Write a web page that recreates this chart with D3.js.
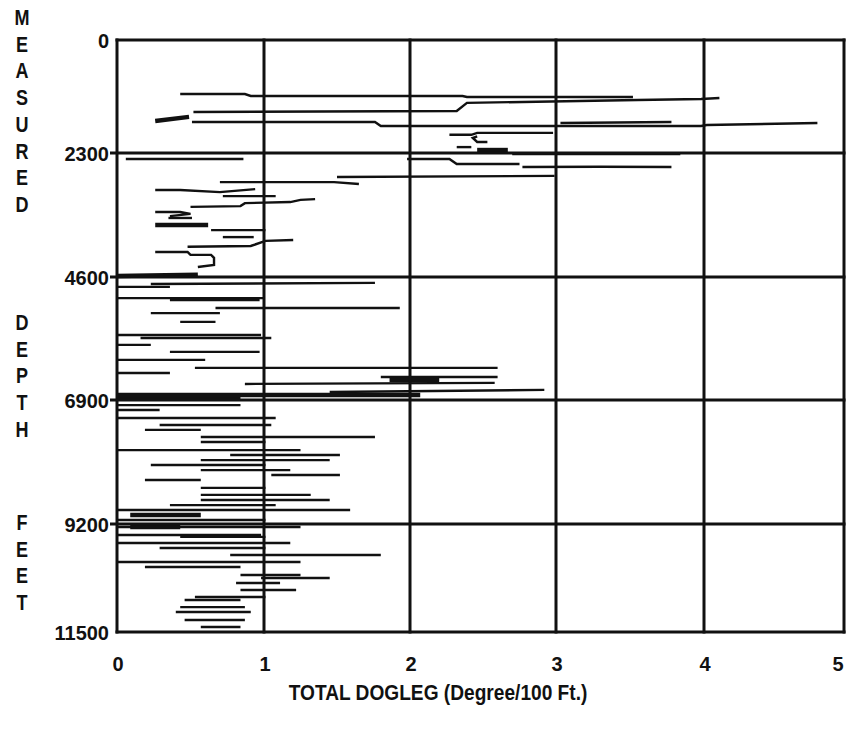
<!DOCTYPE html>
<html lang="en">
<head>
<meta charset="UTF-8">
<title>Total Dogleg vs Measured Depth</title>
<script src="https://d3js.org/d3.v7.min.js"></script>
<style>
  body { margin: 0; background: #fff; }
  svg { display: block; font-family: "Liberation Sans", Arial, sans-serif; font-weight: bold; }
</style>
</head>
<body>
<svg width="846" height="734"></svg>
<script>
const doglegTicks = [0, 1, 2, 3, 4, 5];
const depthTicks = [0, 2300, 4600, 6900, 9200, 11500];
const yTitleWords = ["MEASURED", "DEPTH", "FEET"];
const xTitle = "TOTAL DOGLEG (Degree/100 Ft.)";

// each trace: [dogleg, depth] points
const traces = [
  [[0.43,1100],[0.87,1100],[0.91,1140],[2.36,1140],[2.39,1160],[3.52,1160]],
  [[0.52,1465],[2.32,1445],[2.39,1280],[3.55,1220],[3.98,1200],[4.11,1180]],
  [[0.51,1670],[1.76,1670],[1.80,1750],[3.98,1750],[4.02,1730],[4.81,1690]],
  [[3.03,1690],[3.78,1670]],
  [[2.98,1890],[2.46,1890],[2.42,1930],[2.27,1930]],
  [[2.46,1960],[2.43,1995],[2.46,2075],[2.53,2075]],
  [[2.32,2180],[2.42,2180]],
  [[2.70,2320],[3.84,2320]],
  [[0.06,2410],[0.86,2410]],
  [[1.98,2410],[2.27,2410],[2.32,2505],[2.75,2505]],
  [[2.77,2560],[3.30,2555],[3.78,2560]],
  [[1.50,2745],[2.99,2725]],
  [[0.70,2840],[1.48,2840],[1.65,2875]],
  [[0.26,2985],[0.43,2985],[0.70,3025],[0.94,2970]],
  [[0.72,3100],[1.08,3100]],
  [[0.50,3300],[0.84,3285],[0.87,3230],[1.18,3210],[1.25,3170],[1.35,3155]],
  [[0.26,3395],[0.43,3395],[0.50,3430],[0.36,3470]],
  [[0.35,3505],[0.51,3505]],
  [[0.64,3730],[1.01,3730]],
  [[0.72,3860],[0.93,3860]],
  [[0.48,4040],[0.91,4025],[1.01,3930],[1.20,3915]],
  [[0.26,4135],[0.48,4135],[0.50,4190],[0.64,4190],[0.66,4245],[0.66,4375],[0.55,4415]],
  [[0.00,4785],[0.36,4785]],
  [[0.23,4730],[1.76,4710]],
  [[0.00,4995],[1.00,4995]],
  [[0.36,5030],[0.97,5030]],
  [[0.67,5180],[1.93,5180]],
  [[0.23,5275],[0.70,5275]],
  [[0.43,5440],[0.67,5440]],
  [[0.00,5685],[0.98,5685]],
  [[0.16,5740],[1.05,5740]],
  [[0.00,5870],[0.23,5870]],
  [[0.36,6000],[0.97,6000]],
  [[0.00,6150],[0.60,6150]],
  [[0.53,6300],[2.60,6300]],
  [[0.00,6395],[0.36,6395]],
  [[1.80,6470],[2.60,6470]],
  [[0.87,6600],[2.58,6580]],
  [[1.45,6750],[2.92,6710]],
  [[0.00,6865],[0.84,6865]],
  [[0.00,6995],[0.84,6995]],
  [[0.00,7085],[0.29,7085]],
  [[0.00,7235],[1.01,7235],[1.08,7235]],
  [[0.29,7365],[1.05,7365]],
  [[0.19,7455],[0.57,7455]],
  [[0.57,7585],[1.76,7585]],
  [[0.57,7680],[1.01,7680]],
  [[0.00,7830],[1.25,7830]],
  [[0.77,7920],[1.52,7920]],
  [[0.57,8015],[1.45,8015]],
  [[0.23,8105],[1.01,8105]],
  [[0.57,8200],[1.18,8200]],
  [[1.05,8290],[1.52,8290]],
  [[0.19,8385],[0.57,8385]],
  [[0.57,8530],[1.01,8530]],
  [[0.57,8660],[1.32,8660]],
  [[0.57,8755],[1.45,8755]],
  [[0.36,8850],[1.08,8850]],
  [[0.00,8940],[1.59,8940]],
  [[0.00,9125],[1.01,9125]],
  [[0.00,9265],[1.25,9265]],
  [[0.00,9435],[0.98,9435]],
  [[0.43,9475],[1.01,9475]],
  [[0.00,9605],[1.18,9605]],
  [[0.29,9710],[1.01,9710]],
  [[0.77,9860],[1.80,9860]],
  [[0.00,10010],[1.25,10010]],
  [[0.19,10115],[0.84,10115]],
  [[0.84,10285],[1.25,10285]],
  [[0.98,10350],[1.45,10350]],
  [[0.81,10455],[1.11,10455]],
  [[0.84,10605],[1.22,10605]],
  [[0.53,10755],[1.01,10755]],
  [[0.46,10820],[0.84,10820]],
  [[0.43,10970],[0.87,10970]],
  [[0.40,11075],[0.91,11075]],
  [[0.46,11245],[0.87,11245]],
  [[0.57,11395],[0.84,11395]]
];

// heavier smudges in the log
const thickTraces = [
  [[0.26,1650],[0.49,1565]],
  [[2.46,2240],[2.67,2240]],
  [[0.26,3635],[0.62,3635]],
  [[0.00,4580],[0.55,4560]],
  [[1.86,6525],[2.20,6525]],
  [[0.00,6805],[2.07,6805]],
  [[0.09,9035],[0.57,9035]],
  [[0.09,9265],[0.43,9265]]
];

const svg = d3.select("svg");

const x = d3.scaleLinear().domain(doglegTicks).range([117, 264, 410, 556, 704, 844]);
const y = d3.scaleLinear().domain(depthTicks).range([40, 153, 277, 400, 524, 632]);

const line = d3.line()
  .x(d => x(d[0]))
  .y(d => y(d[1]));

// data traces
svg.append("g")
  .selectAll("path")
  .data(traces)
  .join("path")
  .attr("d", line)
  .attr("fill", "none")
  .attr("stroke", "#111")
  .attr("stroke-width", 2.4);

svg.append("g")
  .selectAll("path")
  .data(thickTraces)
  .join("path")
  .attr("d", line)
  .attr("fill", "none")
  .attr("stroke", "#111")
  .attr("stroke-width", 4.5);

// grid
const grid = svg.append("g").attr("stroke", "#111").attr("stroke-width", 3);

grid.selectAll("line.v")
  .data(doglegTicks)
  .join("line")
  .attr("class", "v")
  .attr("x1", d => x(d)).attr("x2", d => x(d))
  .attr("y1", y(0) - 1.5).attr("y2", y(11500) + 1.5);

grid.selectAll("line.h")
  .data(depthTicks)
  .join("line")
  .attr("class", "h")
  .attr("x1", d => (d === 0 || d === 11500) ? x(0) - 1.5 : x(0) - 7)
  .attr("x2", x(5) + 1.5)
  .attr("y1", d => y(d)).attr("y2", d => y(d));

// tick labels
svg.append("g")
  .selectAll("text")
  .data(depthTicks)
  .join("text")
  .attr("x", 109)
  .attr("y", d => y(d) + 8)
  .attr("text-anchor", "end")
  .attr("font-size", 20)
  .attr("fill", "#111")
  .text(d => d);

svg.append("g")
  .selectAll("text")
  .data(doglegTicks)
  .join("text")
  .attr("x", d => d === 5 ? x(d) - 6 : x(d) + 1)
  .attr("y", 671)
  .attr("text-anchor", "middle")
  .attr("font-size", 20)
  .attr("fill", "#111")
  .text(d => d);

// stacked vertical title (narrow bold face)
const wordTop = [17, 322, 522];
const letters = [];
yTitleWords.forEach((w, i) => {
  w.split("").forEach((ch, j) => letters.push({ ch, cy: wordTop[i] + j * 26.7 }));
});
svg.append("g")
  .selectAll("text")
  .data(letters)
  .join("text")
  .attr("transform", d => `translate(22,${d.cy + 8}) scale(0.82,1)`)
  .attr("text-anchor", "middle")
  .attr("font-size", 22)
  .attr("fill", "#111")
  .text(d => d.ch);

svg.append("text")
  .attr("transform", "translate(438,700) scale(0.87,1)")
  .attr("text-anchor", "middle")
  .attr("font-size", 22)
  .attr("fill", "#111")
  .text(xTitle);
</script>
</body>
</html>
